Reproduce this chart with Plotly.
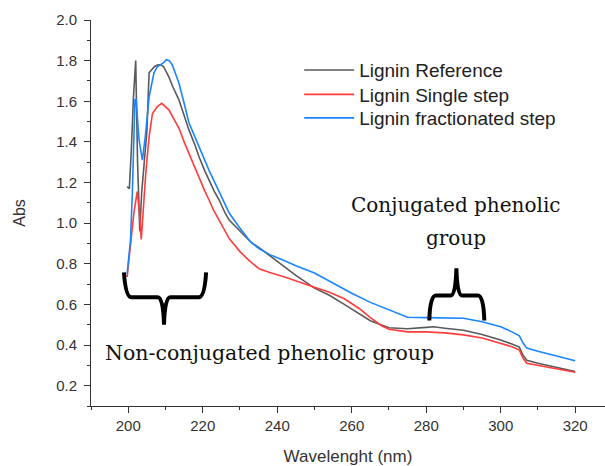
import plotly.graph_objects as go

# ---------------- data ----------------
wl_ref = [199.7, 200.3, 200.8, 201.4, 202.0, 202.5, 203.1, 203.6, 204.3, 205.0, 205.6, 206.0,
          207.0, 208.0, 208.7, 209.5, 210.9, 212.0, 213.6, 215.0, 216.3, 218.0, 219.0, 220.5,
          221.7, 223.0, 224.4, 226.0, 227.1, 230.0, 233.0, 235.1, 238.0, 241.0, 245.0, 250.0,
          254.0, 258.0, 262.0, 265.0, 270.0, 275.0, 280.0, 282.0, 285.0, 290.0, 295.0, 300.0,
          303.0, 305.0, 306.0, 307.0, 310.0, 315.0, 320.0]
abs_ref = [1.18, 1.17, 1.35, 1.62, 1.80, 1.30, 0.96, 1.15, 1.30, 1.45, 1.74, 1.75,
           1.77, 1.78, 1.78, 1.77, 1.72, 1.67, 1.607, 1.53, 1.459, 1.38, 1.327, 1.26,
           1.212, 1.16, 1.114, 1.05, 1.015, 0.96, 0.905, 0.88, 0.84, 0.80, 0.743, 0.68,
           0.645, 0.60, 0.555, 0.52, 0.485, 0.48, 0.487, 0.49, 0.483, 0.473, 0.452, 0.425,
           0.405, 0.39, 0.35, 0.325, 0.31, 0.29, 0.27]

wl_single = [199.7, 200.6, 201.5, 202.4, 203.0, 203.5, 204.0, 204.7, 205.6, 206.5, 207.8, 209.0,
             210.9, 212.0, 213.6, 215.0, 216.3, 218.0, 219.0, 220.5, 221.7, 223.0, 224.4, 226.0,
             227.1, 230.0, 232.4, 235.1, 238.0, 242.0, 245.0, 250.0, 254.0, 258.0, 262.0, 265.0,
             268.0, 270.0, 275.0, 280.0, 285.0, 290.0, 295.0, 300.0, 303.0, 305.0, 306.0, 307.0,
             310.0, 315.0, 320.0]
abs_single = [0.735, 0.883, 1.048, 1.155, 1.05, 0.92, 1.05, 1.245, 1.426, 1.54, 1.574, 1.59,
              1.558, 1.52, 1.468, 1.40, 1.344, 1.27, 1.22, 1.16, 1.114, 1.06, 1.015, 0.96,
              0.924, 0.86, 0.817, 0.776, 0.757, 0.735, 0.715, 0.685, 0.66, 0.628, 0.58, 0.535,
              0.495, 0.478, 0.465, 0.465, 0.46, 0.45, 0.435, 0.41, 0.392, 0.375, 0.335, 0.31,
              0.30, 0.283, 0.266]

wl_frac = [199.7, 200.6, 201.1, 201.8, 202.1, 202.9, 203.8, 204.6, 205.6, 206.9, 207.8, 208.7,
           209.5, 210.2, 211.0, 211.8, 213.6, 215.0, 216.3, 219.0, 221.7, 224.4, 227.1, 230.0,
           233.0, 235.1, 238.0, 242.0, 245.0, 250.0, 255.0, 260.0, 265.0, 270.0, 275.0, 280.0,
           285.0, 290.0, 295.0, 300.0, 303.0, 305.0, 306.0, 307.0, 310.0, 315.0, 320.0]
abs_frac = [0.75, 0.916, 1.148, 1.607, 1.61, 1.41, 1.31, 1.43, 1.62, 1.74, 1.77, 1.78,
            1.79, 1.805, 1.80, 1.78, 1.69, 1.59, 1.494, 1.377, 1.26, 1.155, 1.05, 0.975,
            0.905, 0.875, 0.845, 0.815, 0.79, 0.755, 0.705, 0.655, 0.61, 0.572, 0.537, 0.535,
            0.535, 0.532, 0.515, 0.49, 0.465, 0.445, 0.41, 0.385, 0.37, 0.345, 0.323]

series_names = ["Lignin Reference", "Lignin Single step", "Lignin fractionated step"]
series_colors = ["#5a5a5a", "#ff3c3c", "#1a85ff"]

x_ticks = [200, 220, 240, 260, 280, 300, 320]
y_ticks = [0.2, 0.4, 0.6, 0.8, 1.0, 1.2, 1.4, 1.6, 1.8, 2.0]
y_ticklabels = ["0.2", "0.4", "0.6", "0.8", "1.0", "1.2", "1.4", "1.6", "1.8", "2.0"]

# ---------------- figure ----------------
fig = go.Figure()
data = [(wl_ref, abs_ref), (wl_single, abs_single), (wl_frac, abs_frac)]
legend_ids = ["legend", "legend2", "legend3"]
for (xs, ys), name, col, lg in zip(data, series_names, series_colors, legend_ids):
    fig.add_trace(go.Scatter(x=xs, y=ys, mode="lines", name=name, showlegend=True,
                             line=dict(color=col, width=1.6), legend=lg))

sans = "Liberation Sans, Arial, sans-serif"
serif = "DejaVu Serif, serif"

legend_common = dict(x=0.405, xanchor="left", yanchor="middle",
                     bgcolor="rgba(0,0,0,0)", borderwidth=0,
                     font=dict(family=sans, size=19, color="#222"),
                     itemwidth=50)
fig.update_layout(
    width=605, height=466,
    showlegend=True,
    margin=dict(l=91, r=0, t=20, b=60),
    plot_bgcolor="white", paper_bgcolor="white",
    legend=dict(y=0.870, **legend_common),
    legend2=dict(y=0.807, **legend_common),
    legend3=dict(y=0.746, **legend_common),
    xaxis=dict(range=[190, 328], tickvals=x_ticks, ticks="outside", ticklen=6,
               tickwidth=1, tickcolor="#333", showline=True, linecolor="#333", linewidth=1,
               showgrid=False, zeroline=False,
               tickfont=dict(family=sans, size=15, color="#333"),
               minor=dict(dtick=10, tick0=190, ticks="outside", ticklen=3, tickcolor="#333"),
               title=dict(text="Wavelenght (nm)", font=dict(family=sans, size=17, color="#333"),
                          standoff=17)),
    yaxis=dict(range=[0.1, 2.0], tickvals=y_ticks, ticktext=y_ticklabels, ticks="outside",
               ticklen=6, tickwidth=1, tickcolor="#333", showline=True, linecolor="#333",
               linewidth=1, showgrid=False, zeroline=False, ticklabelstandoff=4,
               tickfont=dict(family=sans, size=15, color="#333"),
               minor=dict(dtick=0.1, tick0=0.1, ticks="outside", ticklen=3, tickcolor="#333"),
               title=dict(text="Abs", font=dict(family=sans, size=16, color="#333"),
                          standoff=26)),
)

# annotations
fig.add_annotation(x=288.1, y=1.09, xref="x", yref="y", text="Conjugated phenolic",
                   showarrow=False, font=dict(family=serif, size=20, color="#111"))
fig.add_annotation(x=288.1, y=0.925, xref="x", yref="y", text="group",
                   showarrow=False, font=dict(family=serif, size=20, color="#111"))
fig.add_annotation(x=237.8, y=0.363, xref="x", yref="y", text="Non-conjugated phenolic group",
                   showarrow=False, font=dict(family=serif, size=20.5, color="#111"))

# braces
left_brace = ("M 198.84,0.758 Q 199.3,0.635 200.9,0.635 L 207.9,0.635 "
              "Q 209.4,0.635 209.6,0.50 Q 209.8,0.635 211.3,0.635 L 218.9,0.635 "
              "Q 220.5,0.635 220.9,0.758")
right_brace = ("M 280.83,0.521 Q 281.0,0.644 282.6,0.644 L 286.6,0.644 "
               "Q 287.9,0.644 288.1,0.778 Q 288.3,0.644 289.6,0.644 L 293.9,0.644 "
               "Q 295.4,0.644 295.6,0.521")
for p in (left_brace, right_brace):
    fig.add_shape(type="path", path=p, xref="x", yref="y",
                  line=dict(color="black", width=4))

fig.write_html("out.html")
